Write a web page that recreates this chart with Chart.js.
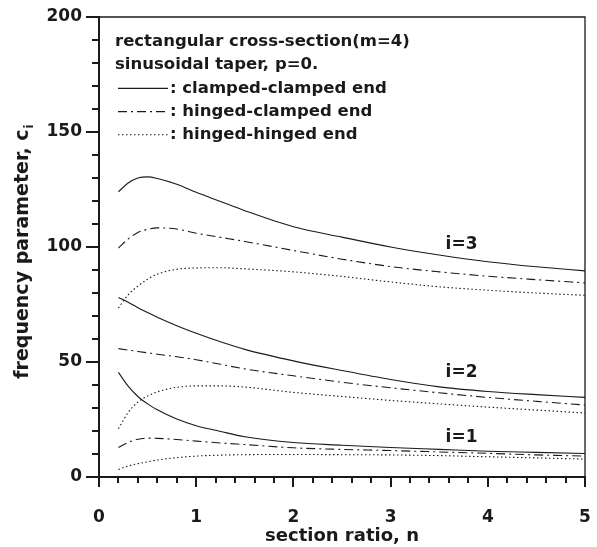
<!DOCTYPE html>
<html>
<head>
<meta charset="utf-8">
<script src="https://cdn.jsdelivr.net/npm/chart.js@4"></script>
<style>
  html, body { margin: 0; padding: 0; background: #fff; overflow: hidden; }
  canvas { display: block; }
</style>
</head>
<body>
<canvas id="myChart" width="597" height="547"></canvas>
<script>
// section ratio n (x values shared by all curves)
const nValues = [0.2, 0.3, 0.4, 0.5, 0.6, 0.8, 1.0, 1.25, 1.5, 2.0, 2.5, 3.0, 3.5, 4.0, 4.5, 5.0];

// i=3
const cc3 = [124.0, 127.8, 130.0, 130.5, 129.8, 127.3, 123.8, 119.8, 115.8, 108.8, 104.3, 100.0, 96.5, 93.6, 91.4, 89.6];
const hc3 = [99.5, 103.5, 106.3, 107.7, 108.3, 107.8, 106.0, 104.2, 102.4, 98.5, 94.7, 91.5, 89.2, 87.3, 85.8, 84.4];
const hh3 = [73.5, 79.2, 83.0, 86.0, 88.2, 90.3, 90.9, 91.0, 90.5, 89.2, 87.2, 84.8, 82.7, 81.2, 80.0, 79.0];
// i=2
const cc2 = [78.0, 76.0, 73.6, 71.5, 69.5, 65.8, 62.5, 58.8, 55.5, 50.5, 46.3, 42.4, 39.2, 37.2, 35.8, 34.6];
const hc2 = [55.8, 55.2, 54.6, 54.0, 53.4, 52.3, 51.0, 49.0, 47.0, 44.0, 41.2, 38.8, 36.6, 34.6, 32.9, 31.3];
const hh2 = [21.0, 28.0, 32.6, 35.2, 37.0, 39.0, 39.6, 39.6, 39.1, 36.8, 35.0, 33.3, 31.8, 30.4, 29.1, 27.8];
// i=1
const cc1 = [45.5, 39.5, 35.0, 31.8, 29.2, 25.2, 22.3, 19.8, 17.5, 15.0, 13.8, 12.8, 12.0, 11.2, 10.7, 10.2];
const hc1 = [12.8, 15.0, 16.4, 16.9, 16.8, 16.3, 15.6, 14.8, 14.1, 12.7, 12.0, 11.5, 10.9, 10.3, 9.6, 9.1];
const hh1 = [3.3, 4.8, 5.8, 6.6, 7.4, 8.4, 9.1, 9.5, 9.7, 9.8, 9.7, 9.6, 9.3, 8.8, 8.3, 7.8];

const boundaryNames = ['clamped-clamped end', 'hinged-clamped end', 'hinged-hinged end'];
const headerLines = ['rectangular cross-section(m=4)', 'sinusoidal taper, p=0.'];
const modeLabels = ['i=3', 'i=2', 'i=1'];
const modeLabelN = [3.73, 3.73, 3.73];
const modeLabelC = [101, 45.5, 17];

const INK = '#1a1a1a';
const FONT = '"DejaVu Sans", sans-serif';
const dashes = [[], [9, 4, 2, 4], [1.5, 2.5]];

function pts(ys) { return nValues.map((n, k) => ({ x: n, y: ys[k] })); }

const groups = [[cc3, hc3, hh3], [cc2, hc2, hh2], [cc1, hc1, hh1]];
const datasets = [];
groups.forEach(g => {
    g.forEach((ys, b) => {
        datasets.push({
            label: boundaryNames[b],
            data: pts(ys),
            showLine: true,
            borderColor: INK,
            borderWidth: 1.1,
            borderDash: dashes[b],
            pointRadius: 0,
            fill: false,
            cubicInterpolationMode: 'monotone'
        });
    });
});

const decor = {
    id: 'decor',
    afterDraw(chart) {
        const ctx = chart.ctx;
        const a = chart.chartArea;
        const xs = chart.scales.x, ys = chart.scales.y;
        ctx.save();
        ctx.strokeStyle = INK;
        ctx.fillStyle = INK;

        // top and right frame
        ctx.lineWidth = 1.3;
        ctx.beginPath();
        ctx.moveTo(a.left, a.top); ctx.lineTo(a.right, a.top); ctx.lineTo(a.right, a.bottom);
        ctx.stroke();

        // ticks (major + minor), outward
        ctx.lineWidth = 2;
        for (let k = 0; k <= 25; k++) {
            const px = Math.round(xs.getPixelForValue(k * 0.2));
            const len = (k % 5 === 0) ? 10 : 6;
            ctx.beginPath(); ctx.moveTo(px, a.bottom); ctx.lineTo(px, a.bottom + len); ctx.stroke();
        }
        for (let k = 0; k <= 20; k++) {
            const py = Math.round(ys.getPixelForValue(k * 10));
            const len = (k % 5 === 0) ? 13 : 7;
            ctx.beginPath(); ctx.moveTo(a.left, py); ctx.lineTo(a.left - len, py); ctx.stroke();
        }

        // legend block
        ctx.font = 'bold 16.5px ' + FONT;
        ctx.textBaseline = 'middle';
        ctx.textAlign = 'left';
        const lx = 115;
        const ly0 = 42, dy = 23.2;
        headerLines.forEach((t, k) => ctx.fillText(t, lx, ly0 + k * dy));
        boundaryNames.forEach((t, k) => {
            const y = ly0 + (k + 2) * dy;
            ctx.save();
            ctx.lineWidth = 1.1;
            ctx.setLineDash(dashes[k]);
            ctx.beginPath(); ctx.moveTo(118, y); ctx.lineTo(168, y); ctx.stroke();
            ctx.restore();
            ctx.fillText(': ' + t, 170, y);
        });

        // mode labels
        ctx.textAlign = 'center';
        ctx.font = 'bold 17px ' + FONT;
        modeLabels.forEach((t, k) => {
            ctx.fillText(t, xs.getPixelForValue(modeLabelN[k]), ys.getPixelForValue(modeLabelC[k]));
        });

        // y title with subscript
        ctx.translate(23, (a.top + a.bottom) / 2 + 5);
        ctx.rotate(-Math.PI / 2);
        const main = 'frequency parameter, c';
        ctx.font = 'bold 19px ' + FONT;
        const w1 = ctx.measureText(main).width;
        ctx.font = 'bold 12px ' + FONT;
        const w2 = ctx.measureText('i').width;
        const x0 = -(w1 + w2) / 2;
        ctx.textAlign = 'left';
        ctx.font = 'bold 19px ' + FONT;
        ctx.fillText(main, x0, 0);
        ctx.font = 'bold 12px ' + FONT;
        ctx.fillText('i', x0 + w1 + 1, 7);
        ctx.restore();
    }
};

new Chart(document.getElementById('myChart').getContext('2d'), {
    type: 'scatter',
    data: { datasets: datasets },
    options: {
        responsive: false,
        animation: false,
        layout: { padding: { top: 17, right: 12, left: 0, bottom: 0 } },
        plugins: { legend: { display: false }, tooltip: { enabled: false } },
        scales: {
            x: {
                type: 'linear', min: 0, max: 5,
                // fixed box, no label overflow padding
                afterFit: s => { s.height = 70; s.paddingLeft = 0; s.paddingRight = 0; },
                grid: { drawOnChartArea: false, drawTicks: false },
                border: { color: INK, width: 2 },
                ticks: { stepSize: 1, padding: 30, color: INK, font: { family: FONT, size: 17, weight: 'bold' } },
                title: { display: true, text: 'section ratio, n', color: INK, padding: { top: 0, bottom: 0 },
                         font: { family: FONT, size: 18, weight: 'bold' } }
            },
            y: {
                type: 'linear', min: 0, max: 200,
                afterFit: s => { s.width = 99; s.paddingTop = 0; s.paddingBottom = 0; },
                grid: { drawOnChartArea: false, drawTicks: false },
                border: { color: INK, width: 2 },
                ticks: { stepSize: 50, padding: 17, color: INK, font: { family: FONT, size: 17, weight: 'bold' } }
            }
        }
    },
    plugins: [decor]
});
</script>
</body>
</html>
